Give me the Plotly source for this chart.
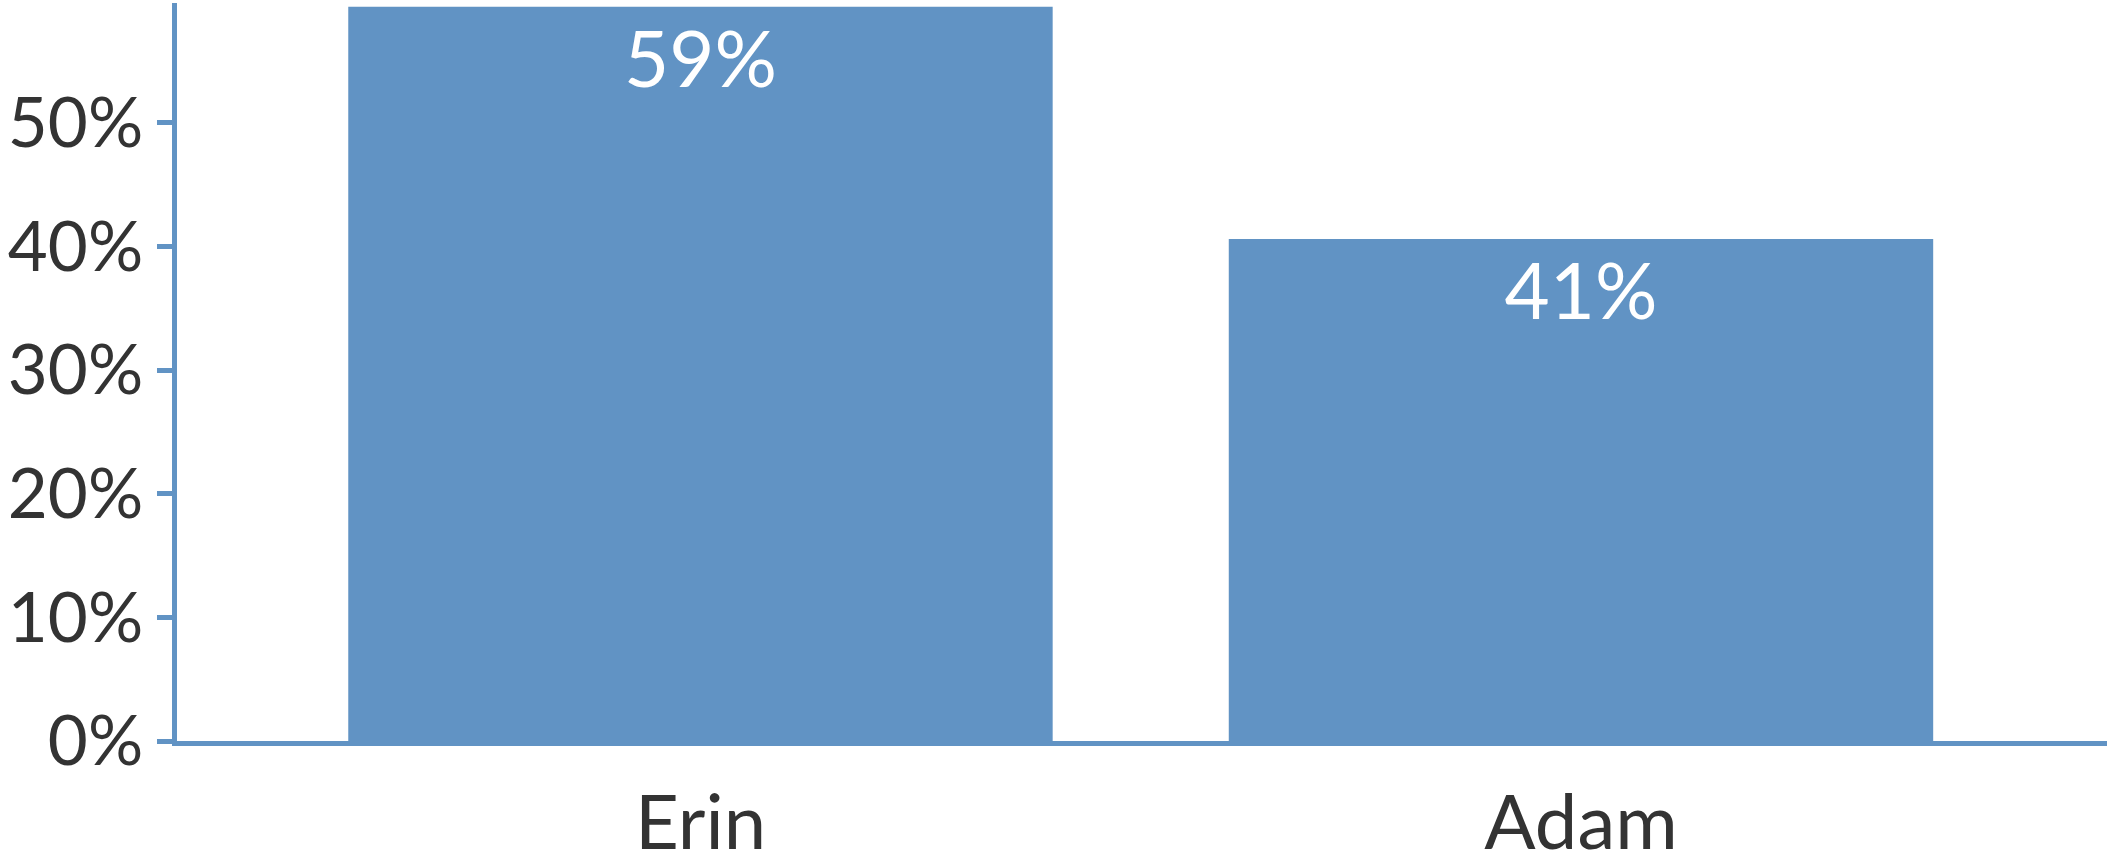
import plotly.graph_objects as go

categories = ["Erin", "Adam"]
values = [0.594, 0.406]
labels = ["59%", "41%"]
tick_vals = [0, 0.1, 0.2, 0.3, 0.4, 0.5]
tick_text = ["0%", "10%", "20%", "30%", "40%", "50%"]

BLUE = "#6193c4"
FONT = "Lato"

fig = go.Figure(
    go.Bar(
        x=categories,
        y=values,
        text=labels,
        textposition="inside",
        insidetextanchor="end",
        textfont=dict(family=FONT, size=78, color="white"),
        marker=dict(color=BLUE, line=dict(width=0)),
        width=0.8,
        hoverinfo="skip",
    )
)

fig.update_layout(
    width=2107,
    height=865,
    margin=dict(l=177, r=0, t=3, b=118),
    paper_bgcolor="white",
    plot_bgcolor="white",
    showlegend=False,
    font=dict(family=FONT, color="#333333"),
)

fig.update_xaxes(
    range=[-0.5945, 1.5974],
    showgrid=False,
    zeroline=False,
    showline=True,
    linecolor=BLUE,
    linewidth=5,
    ticks="",
    tickfont=dict(family=FONT, size=76, color="#333333"),
    ticklabelstandoff=12,
)

fig.update_yaxes(
    range=[0, 0.597],
    tickvals=tick_vals,
    ticktext=tick_text,
    showgrid=False,
    zeroline=False,
    showline=True,
    linecolor=BLUE,
    linewidth=5,
    ticks="outside",
    ticklen=15,
    tickwidth=5,
    tickcolor=BLUE,
    tickfont=dict(family=FONT, size=69, color="#333333"),
)

fig.write_html(
    "out.html",
    config={"displayModeBar": False},
    post_script="document.body.style.margin='0';document.body.style.overflow='hidden';",
)
